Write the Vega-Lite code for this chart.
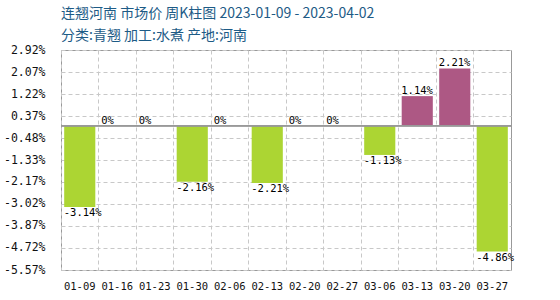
{
  "$schema": "https://vega.github.io/schema/vega-lite/v6.json",
  "autosize": "none",
  "width": 450,
  "height": 220,
  "padding": {"left": 61, "top": 50, "right": 49, "bottom": 30},
  "background": "white",
  "title": {
    "text": "连翘河南  市场价  周K柱图  2023-01-09 - 2023-04-02",
    "subtitle": "分类:青翘  加工:水煮  产地:河南",
    "anchor": "start",
    "frame": "group",
    "font": "Noto Sans CJK SC",
    "fontSize": 14,
    "fontWeight": "normal",
    "color": "#1d5b86",
    "subtitleFont": "Noto Sans CJK SC",
    "subtitleFontSize": 14,
    "subtitleColor": "#1d5b86",
    "subtitlePadding": 8,
    "offset": 1
  },
  "data": {
    "values": [
      {"week": "01-09", "value": -3.14},
      {"week": "01-16", "value": 0},
      {"week": "01-23", "value": 0},
      {"week": "01-30", "value": -2.16},
      {"week": "02-06", "value": 0},
      {"week": "02-13", "value": -2.21},
      {"week": "02-20", "value": 0},
      {"week": "02-27", "value": 0},
      {"week": "03-06", "value": -1.13},
      {"week": "03-13", "value": 1.14},
      {"week": "03-20", "value": 2.21},
      {"week": "03-27", "value": -4.86}
    ]
  },
  "transform": [
    {"calculate": "format(datum.value, '.2~f') + '%'", "as": "label"}
  ],
  "encoding": {
    "x": {
      "field": "week",
      "type": "ordinal",
      "sort": null,
      "scale": {"paddingInner": 0, "paddingOuter": 0},
      "axis": {
        "title": null,
        "bandPosition": 0,
        "labelAngle": 0,
        "labelFont": "DejaVu Sans Mono",
        "labelFontSize": 10.5,
        "labelColor": "#111",
        "labelPadding": 11,
        "ticks": false,
        "domain": false,
        "grid": true,
        "gridColor": "#c8c8c8",
        "gridDash": [4, 3]
      }
    },
    "y": {
      "field": "value",
      "type": "quantitative",
      "scale": {"domain": [-5.57, 2.92], "nice": false, "zero": false},
      "axis": {
        "title": null,
        "values": [2.92, 2.07, 1.22, 0.37, -0.48, -1.33, -2.17, -3.02, -3.87, -4.72, -5.57],
        "labelExpr": "format(datum.value, '.2f') + '%'",
        "labelFont": "DejaVu Sans Mono",
        "labelFontSize": 11.5,
        "labelColor": "#111",
        "labelPadding": 16,
        "ticks": false,
        "domain": false,
        "grid": true,
        "gridColor": "#c8c8c8",
        "gridDash": [4, 3]
      }
    }
  },
  "layer": [
    {
      "mark": {"type": "bar", "width": {"band": 0.83}},
      "encoding": {
        "y2": {"datum": 0},
        "color": {
          "condition": {"test": "datum.value >= 0", "value": "#ad5884"},
          "value": "#acd533"
        }
      }
    },
    {
      "mark": {"type": "rule", "color": "#999", "strokeWidth": 1},
      "encoding": {"y": {"datum": 0}, "x": null}
    },
    {
      "transform": [{"filter": "datum.value >= 0"}],
      "mark": {"type": "text", "align": "left", "baseline": "alphabetic", "dx": -16, "dy": -2, "font": "DejaVu Sans Mono", "fontSize": 10.5, "color": "#000"},
      "encoding": {"text": {"field": "label", "type": "nominal"}}
    },
    {
      "transform": [{"filter": "datum.value < 0"}],
      "mark": {"type": "text", "align": "left", "baseline": "top", "dx": -16, "dy": 1, "font": "DejaVu Sans Mono", "fontSize": 10.5, "color": "#000"},
      "encoding": {"text": {"field": "label", "type": "nominal"}}
    }
  ],
  "config": {
    "view": {"stroke": "#999", "strokeWidth": 1},
    "locale": {
      "number": {"decimal": ".", "thousands": ",", "grouping": [3], "currency": ["$", ""], "minus": "-"}
    }
  }
}
